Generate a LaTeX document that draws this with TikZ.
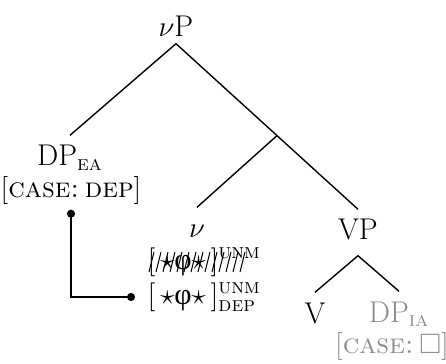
\documentclass[tikz,border=0pt]{standalone}
\usepackage{amsmath,amssymb}
\usepackage{fontspec}
\newfontfamily\greekfont{Liberation Serif}
\usetikzlibrary{arrows.meta,calc}

\newcommand{\phiF}{\text{\greekfont φ}}

\begin{document}
\begin{tikzpicture}[x=0.5pt,y=-0.5pt,>=latex,line width=0.7pt,
        every node/.style={font=\fontsize{15}{18}\selectfont},
        tree/.style={inner sep=3pt, text height=12pt, text depth=0pt, anchor=base},
        feat/.style={inner sep=0.5pt, anchor=west},
        casefeat/.style={anchor=base, font=\fontsize{14}{17}\selectfont},
        faded/.style={text=black!45},
        agree/.style={{Circle[length=4pt]}-{Circle[length=4pt]}, shorten >=5.5pt}]
    \useasboundingbox (0,0) rectangle (446,364);

    \node[tree] (vP) at (176,37) {$\nu$P};
    \node[tree] (dpea) at (70,166) {DP$_{\textsc{ea}}$};
    \node[casefeat, inner sep=2pt] (casedep) at (71,198) {[\textsc{case:\hspace{0.2em}dep}]};
    \node[tree] (v) at (197,238) {$\nu$};
    \node[tree, text depth=4.5pt] (VP) at (358,240) {VP};
    \coordinate (vbar) at ($(vP.south)!0.555!(VP.north)$);
    \node[tree] (V) at (315,323) {V};
    \node[tree, faded] (dpia) at (399,322) {DP$_{\textsc{ia}}$};
    \node[casefeat, faded] (caseia) at (392,354) {[\textsc{case:}\hspace{0.2em}$\square$]};

    % features on v
    \node[feat] (featOld) at (146,262) {$[\,\star\phiF\star\,]^{\textsc{unm}}$};
    \node[feat] (featNew) at (146,297) {$[\,\star\phiF\star\,]^{\textsc{unm}}_{\textsc{dep}}$};
    \foreach \k in {0,...,13}
        \draw[line width=0.5pt] ([xshift=\k*3.5pt+1.5pt, yshift=-5pt]featOld.west) -- ++(5,-20);

    \draw (vP.south) -- (dpea.north);
    \draw (vP.south) -- (VP.north);
    \draw (vbar) -- (v.north);
    \draw (VP.south) -- (V.north);
    \draw (VP.south) -- (dpia.north);

    \draw[agree] (casedep.south) |- (featNew.west);
\end{tikzpicture}
\end{document}
